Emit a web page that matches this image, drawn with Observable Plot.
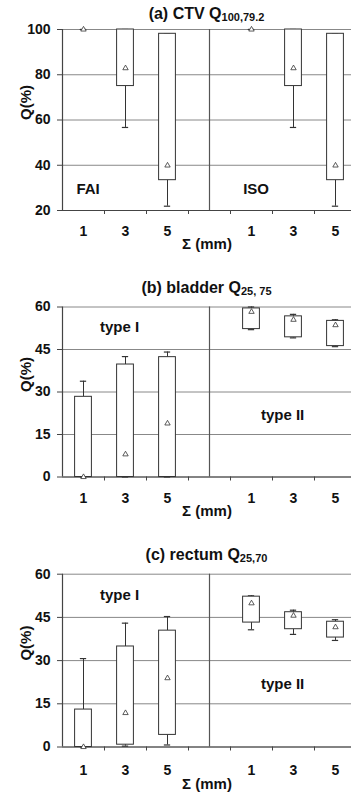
<!DOCTYPE html>
<html><head><meta charset="utf-8">
<script src="https://cdn.jsdelivr.net/npm/d3@7"></script>
<script src="https://cdn.jsdelivr.net/npm/@observablehq/plot@0.6"></script>
<style>
body{margin:0;background:#fff;}
#wrap{position:relative;width:351px;height:794px;overflow:hidden;font-family:"Liberation Sans",Arial,sans-serif;color:#111;}
.panel{position:absolute;left:0;}
.title{position:absolute;left:62px;width:289px;text-align:center;font-size:16px;line-height:16px;font-weight:bold;white-space:nowrap;}
.title span{font-size:11px;position:relative;top:2px;}
</style>
</head><body>
<div id="wrap"></div>
<script>
// ---- data ----
const categories = ["1", "3", "5"];
const groupsA = ["FAI", "ISO"];
const groupsBC = ["type I", "type II"];

// (a) CTV Q100,79.2  (FAI then ISO)
const aQ1   = [100, 75.0, 33.4, 100, 75.0, 33.4];
const aQ3   = [100, 100, 98.1, 100, 100, 98.1];
const aLo   = [100, 56.7, 21.9, 100, 56.7, 21.9];
const aHi   = [100, 100, 98.1, 100, 100, 98.1];
const aMean = [100, 82.9, 39.9, 100, 82.9, 39.9];
const aTicks = [20, 40, 60, 80, 100];

// (b) bladder Q25,75  (type I then type II)
const bQ1   = [0, 0, 0, 52.2, 49.3, 46.2];
const bQ3   = [28.3, 39.7, 42.3, 59.5, 56.7, 55.1];
const bLo   = [0, 0, 0, 52.0, 49.1, 46.0];
const bHi   = [33.8, 42.5, 44.1, 60.0, 57.4, 55.5];
const bMean = [0, 8.0, 18.9, 58.3, 55.5, 53.6];

// (c) rectum Q25,70
const cQ1   = [0, 0.8, 4.2, 43.2, 40.9, 38.0];
const cQ3   = [13.0, 34.9, 40.4, 52.2, 46.8, 43.5];
const cLo   = [0, 0.3, 0.7, 40.7, 39.1, 37.0];
const cHi   = [30.7, 43.0, 45.3, 52.5, 47.5, 44.2];
const cMean = [0, 11.8, 23.9, 49.9, 45.6, 41.6];
const bcTicks = [0, 15, 30, 45, 60];

const xTitle = "Σ (mm)";
const yTitle = "Q(%)";

// ---- drawing ----
const wrap = document.getElementById("wrap");
const FONT = "Liberation Sans, Arial, sans-serif";
const SLOTS = 4; // 3 categories + 1 gap per group
const XMAX = (351 - 62) / 42;

function buildRows(groups, q1, q3, lo, hi, mean) {
  const rows = [];
  groups.forEach((g, gi) => categories.forEach((c, ci) => {
    const i = gi * categories.length + ci;
    rows.push({group: g, cat: c, pos: gi * SLOTS + ci + 0.5,
      q1: q1[i], q3: q3[i], lo: lo[i], hi: hi[i], mean: mean[i]});
  }));
  return rows;
}

function panel({top, height, mt, mb, domain, ticks, rows, notes, tickDy, labDy, title, sub, titleTop}) {
  const t = document.createElement("div");
  t.className = "title";
  t.style.top = titleTop + "px";
  t.innerHTML = title + "<span>" + sub + "</span>";
  const edges = d3.range(1, 7);
  const dividers = [SLOTS - 0.5];
  const p = Plot.plot({
    width: 351, height,
    marginLeft: 62, marginRight: 0, marginTop: mt, marginBottom: mb,
    style: {fontFamily: FONT, color: "#111", background: "white"},
    x: {domain: [0, XMAX]},
    y: {domain},
    marks: [
      Plot.gridY(ticks, {stroke: "#888", strokeOpacity: 1, strokeWidth: 1}),
      Plot.ruleX(dividers, {stroke: "#555", strokeWidth: 1.2}),
      Plot.ruleX([0], {stroke: "#444", strokeWidth: 1.2}),
      Plot.ruleY([domain[0]], {stroke: "#444", strokeWidth: 1.2}),
      Plot.axisY({ticks, tickSize: 5, tickPadding: 7, fontSize: 14, fontWeight: "bold", label: null, stroke: "#444"}),
      Plot.axisX({ticks: edges, tickSize: 4, tickFormat: () => "", label: null, stroke: "#444"}),
      Plot.ruleX(rows, {x: "pos", y1: "lo", y2: "q1", stroke: "#333", strokeWidth: 1}),
      Plot.ruleX(rows, {x: "pos", y1: "q3", y2: "hi", stroke: "#333", strokeWidth: 1}),
      Plot.ruleY(rows, {y: "lo", x1: d => d.pos - 0.075, x2: d => d.pos + 0.075, stroke: "#333", strokeWidth: 1.2}),
      Plot.ruleY(rows, {y: "hi", x1: d => d.pos - 0.075, x2: d => d.pos + 0.075, stroke: "#333", strokeWidth: 1.2}),
      Plot.rect(rows, {x1: d => d.pos - 0.2, x2: d => d.pos + 0.2, y1: "q1", y2: "q3", fill: "white", stroke: "#333", strokeWidth: 1}),
      Plot.dot(rows, {x: "pos", y: "mean", symbol: "triangle", r: 2, stroke: "#333", fill: "white", strokeWidth: 0.8}),
      Plot.text(rows, {x: "pos", text: "cat", frameAnchor: "bottom", lineAnchor: "bottom", dy: tickDy, fontSize: 14, fontWeight: "bold", fill: "#111"}),
      Plot.text([xTitle], {frameAnchor: "bottom", lineAnchor: "bottom", dy: labDy, fontSize: 15, fontWeight: "bold", fill: "#111"}),
      Plot.text([yTitle], {frameAnchor: "left", rotate: -90, dx: -36, fontSize: 15, fontWeight: "bold", fill: "#111"}),
      Plot.text(notes, {x: "x", y: "y", text: "text", fontSize: 15, fontWeight: "bold", fill: "#111"})
    ]
  });
  const holder = document.createElement("div");
  holder.className = "panel";
  holder.style.top = top + "px";
  holder.appendChild(p);
  wrap.appendChild(holder);
  wrap.appendChild(t);
}

panel({
  top: 0, height: 260, mt: 29, mb: 50, domain: [20, 100], ticks: aTicks,
  rows: buildRows(groupsA, aQ1, aQ3, aLo, aHi, aMean),
  notes: [{x: 0.61, y: 29.5, text: groupsA[0]}, {x: 4.61, y: 29.5, text: groupsA[1]}],
  tickDy: 25, labDy: 38, title: "(a) CTV Q", sub: "100,79.2", titleTop: 5.8
});
panel({
  top: 260, height: 260, mt: 46.5, mb: 43.5, domain: [0, 60], ticks: bcTicks,
  rows: buildRows(groupsBC, bQ1, bQ3, bLo, bHi, bMean),
  notes: [{x: 1.36, y: 53, text: groupsBC[0]}, {x: 5.24, y: 21.8, text: groupsBC[1]}],
  tickDy: 25.5, labDy: 39, title: "(b) bladder Q", sub: "25, 75", titleTop: 279.5
});
panel({
  top: 520, height: 274, mt: 53.7, mb: 47.5, domain: [0, 60], ticks: bcTicks,
  rows: buildRows(groupsBC, cQ1, cQ3, cLo, cHi, cMean),
  notes: [{x: 1.36, y: 52.6, text: groupsBC[0]}, {x: 5.24, y: 21.8, text: groupsBC[1]}],
  tickDy: 28, labDy: 42, title: "(c) rectum Q", sub: "25,70", titleTop: 546.5
});
</script>
</body></html>
